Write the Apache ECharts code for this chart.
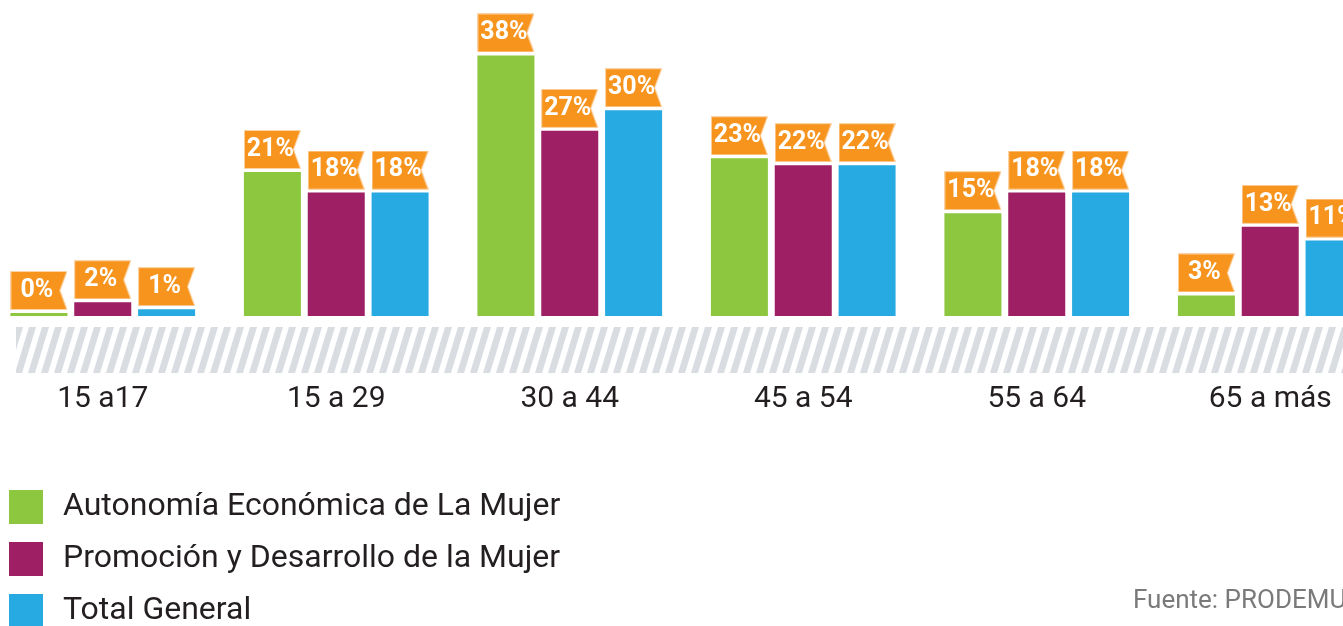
<!DOCTYPE html>
<html>
<head>
<meta charset="utf-8">
<script src="https://cdn.jsdelivr.net/npm/echarts@6/dist/echarts.min.js"></script>
<style>
html,body{margin:0;padding:0;background:#fff;}
#chart{width:1343px;height:626px;}
</style>
</head>
<body>
<div id="chart"></div>
<script>
const categories = ['15 a17', '15 a 29', '30 a 44', '45 a 54', '55 a 64', '65 a más'];
const seriesNames = ['Autonomía Económica de La Mujer', 'Promoción y Desarrollo de la Mujer', 'Total General'];
const autonomia = [0, 21, 38, 23, 15, 3];
const promocion = [2, 18, 27, 22, 18, 13];
const totalGeneral = [1, 18, 30, 22, 18, 11];
const colors = ['#8DC63F', '#9E1F63', '#27AAE1'];
const sourceText = 'Fuente: PRODEMU';

// Orange tag (flag with notch on right side)
function makeTag() {
  const c = document.createElement('canvas');
  c.width = 57; c.height = 39;
  const g = c.getContext('2d');
  g.beginPath();
  g.moveTo(0.5, 0.5); g.lineTo(56.5, 0.5); g.lineTo(49.5, 19.5); g.lineTo(56.5, 38.5); g.lineTo(0.5, 38.5); g.closePath();
  g.fillStyle = '#F7941E';
  g.fill();
  g.strokeStyle = '#FCD2A2';
  g.lineWidth = 1;
  g.stroke();
  return c;
}
// Hatched band
function makeBand(w, h) {
  const c = document.createElement('canvas');
  c.width = w; c.height = h;
  const g = c.getContext('2d');
  g.fillStyle = '#D9DCE1';
  const period = 13, sw = 7, shift = 14;
  for (let x = -shift - period; x < w + period; x += period) {
    g.beginPath();
    g.moveTo(x, h); g.lineTo(x + sw, h); g.lineTo(x + sw + shift, 0); g.lineTo(x + shift, 0); g.closePath();
    g.fill();
  }
  return c;
}
const tag = makeTag();
const band = makeBand(1327, 46);

const chart = echarts.init(document.getElementById('chart'), null, {renderer: 'canvas'});
const dataSets = [autonomia, promocion, totalGeneral];
const series = dataSets.map((d, i) => ({
  name: seriesNames[i],
  type: 'bar',
  data: d,
  barWidth: 57,
  barGap: '12%',
  barMinHeight: 3,
  itemStyle: {color: colors[i]},
  label: {
    show: true,
    position: 'top',
    distance: 3,
    formatter: '{c}%',
    color: '#fff',
    fontFamily: 'Roboto',
    fontWeight: 'bold',
    fontSize: 25,
    width: 53,
    height: 39,
    lineHeight: 39,
    align: 'center',
    padding: [0, 4, 0, 0],
    backgroundColor: {image: tag}
  }
}));

chart.setOption({
  backgroundColor: '#ffffff',
  animation: false,
  grid: {left: -14, width: 1401, top: 28, bottom: 310, containLabel: false, outerBoundsMode: 'none'},
  xAxis: {
    type: 'category',
    data: categories,
    axisLine: {show: false},
    axisTick: {show: false},
    axisLabel: {margin: 68, fontFamily: 'Roboto', fontSize: 30, color: '#231F20'}
  },
  yAxis: {type: 'value', min: 0, max: 42, show: false},
  legend: {
    orient: 'vertical',
    left: 9,
    top: 490,
    height: 200,
    padding: 0,
    itemWidth: 34,
    itemHeight: 34,
    itemGap: 18,
    icon: 'rect',
    selectedMode: false,
    textStyle: {fontFamily: 'Roboto', fontSize: 32, color: '#231F20', padding: [0, 0, 0, 15]},
    data: seriesNames
  },
  graphic: [
    {type: 'image', left: 16, top: 327, z: -1, style: {image: band, width: 1327, height: 46}},
    {type: 'text', left: 1133, top: 588, style: {text: sourceText, font: '26px Roboto', fill: '#7A7A7A'}}
  ],
  series: series
});
</script>
</body>
</html>
